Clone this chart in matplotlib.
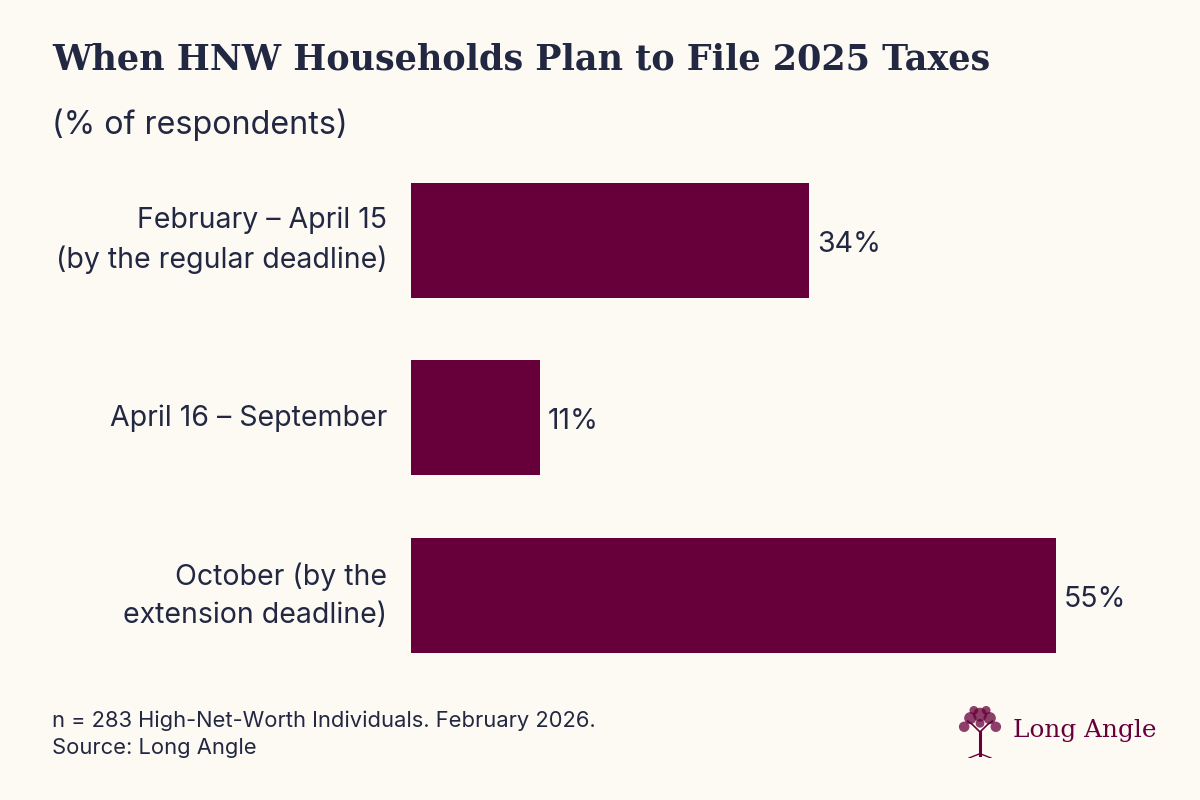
import matplotlib.pyplot as plt
import numpy as np
from matplotlib.patches import Circle

categories = ["February \u2013 April 15\n(by the regular deadline)",
              "April 16 \u2013 September",
              "October (by the\nextension deadline)"]
shares = [34, 11, 55]

title = "When HNW Households Plan to File 2025 Taxes"
subtitle = "(% of respondents)"
footnote = "n = 283 High-Net-Worth Individuals. February 2026.\nSource: Long Angle"
brand = "Long Angle"

bg = "#FDFAF4"
bar_color = "#67003A"
ink = "#222842"

plt.rcParams['font.family'] = ['Inter', 'DejaVu Sans']

fig = plt.figure(figsize=(12, 8), dpi=100, facecolor=bg)

# axes placed so 0% sits at x=411px and bars are 178px apart
px_per_pct = 11.72
left_px, right_px = 411, 1190
ax = fig.add_axes((left_px / 1200, 0.1443, (right_px - left_px) / 1200, 0.6666))
ax.set_facecolor(bg)
y = np.arange(len(categories))
ax.barh(y, shares, height=0.647, color=bar_color)
ax.set_xlim(0, (right_px - left_px) / px_per_pct)
ax.set_ylim(2.5, -0.5)
for s in ax.spines.values():
    s.set_visible(False)
ax.set_xticks([])
ax.set_yticks(y)
ax.set_yticklabels(categories, fontsize=20.5, color=ink, linespacing=1.52, va='center')
ax.tick_params(axis='y', length=0, pad=17)

for yi, v in zip(y, shares):
    ax.annotate(f"{v}%", (v, yi), xytext=(8, -4), textcoords='offset pixels',
                ha='left', va='center', fontsize=20.5, color=ink)

fig.text(52 / 1200, 1 - 59 / 800, title, fontsize=25.2, fontweight='bold',
         family='DejaVu Serif', color=ink, va='center', ha='left')
fig.text(52 / 1200, 1 - 125 / 800, subtitle, fontsize=23.2, color=ink,
         va='center', ha='left')
fig.text(52 / 1200, 1 - 734 / 800, footnote, fontsize=15.8, color=ink,
         va='center', ha='left', linespacing=1.42)

# logo: small tree mark + wordmark
fig.text(1013 / 1200, 1 - 731 / 800, brand, fontsize=17.8, family='DejaVu Serif',
         color=bar_color, va='center', ha='left')
lax = fig.add_axes((958 / 1200, 1 - 758 / 800, 44 / 1200, 52 / 800))
lax.set_xlim(0, 1)
lax.set_ylim(0, 1.2)
lax.axis('off')
lax.plot([0.5, 0.5], [0.08, 0.6], color=bar_color, lw=2.2)
lax.plot([0.5, 0.32, 0.22], [0.6, 0.78, 0.85], color=bar_color, lw=1.2)
lax.plot([0.5, 0.68, 0.78], [0.6, 0.78, 0.85], color=bar_color, lw=1.2)
lax.plot([0.25, 0.5, 0.75], [0.0, 0.1, 0.0], color=bar_color, lw=1)
for cx, cy, r in [(0.5, 1.0, 0.16), (0.28, 0.92, 0.14), (0.72, 0.92, 0.14),
                  (0.14, 0.72, 0.12), (0.86, 0.72, 0.12), (0.36, 1.1, 0.1),
                  (0.64, 1.1, 0.1), (0.5, 0.8, 0.1)]:
    lax.add_patch(Circle((cx, cy), r, facecolor=bar_color, edgecolor='none', alpha=0.75))

fig.savefig("out.png", dpi=100, facecolor=bg)
